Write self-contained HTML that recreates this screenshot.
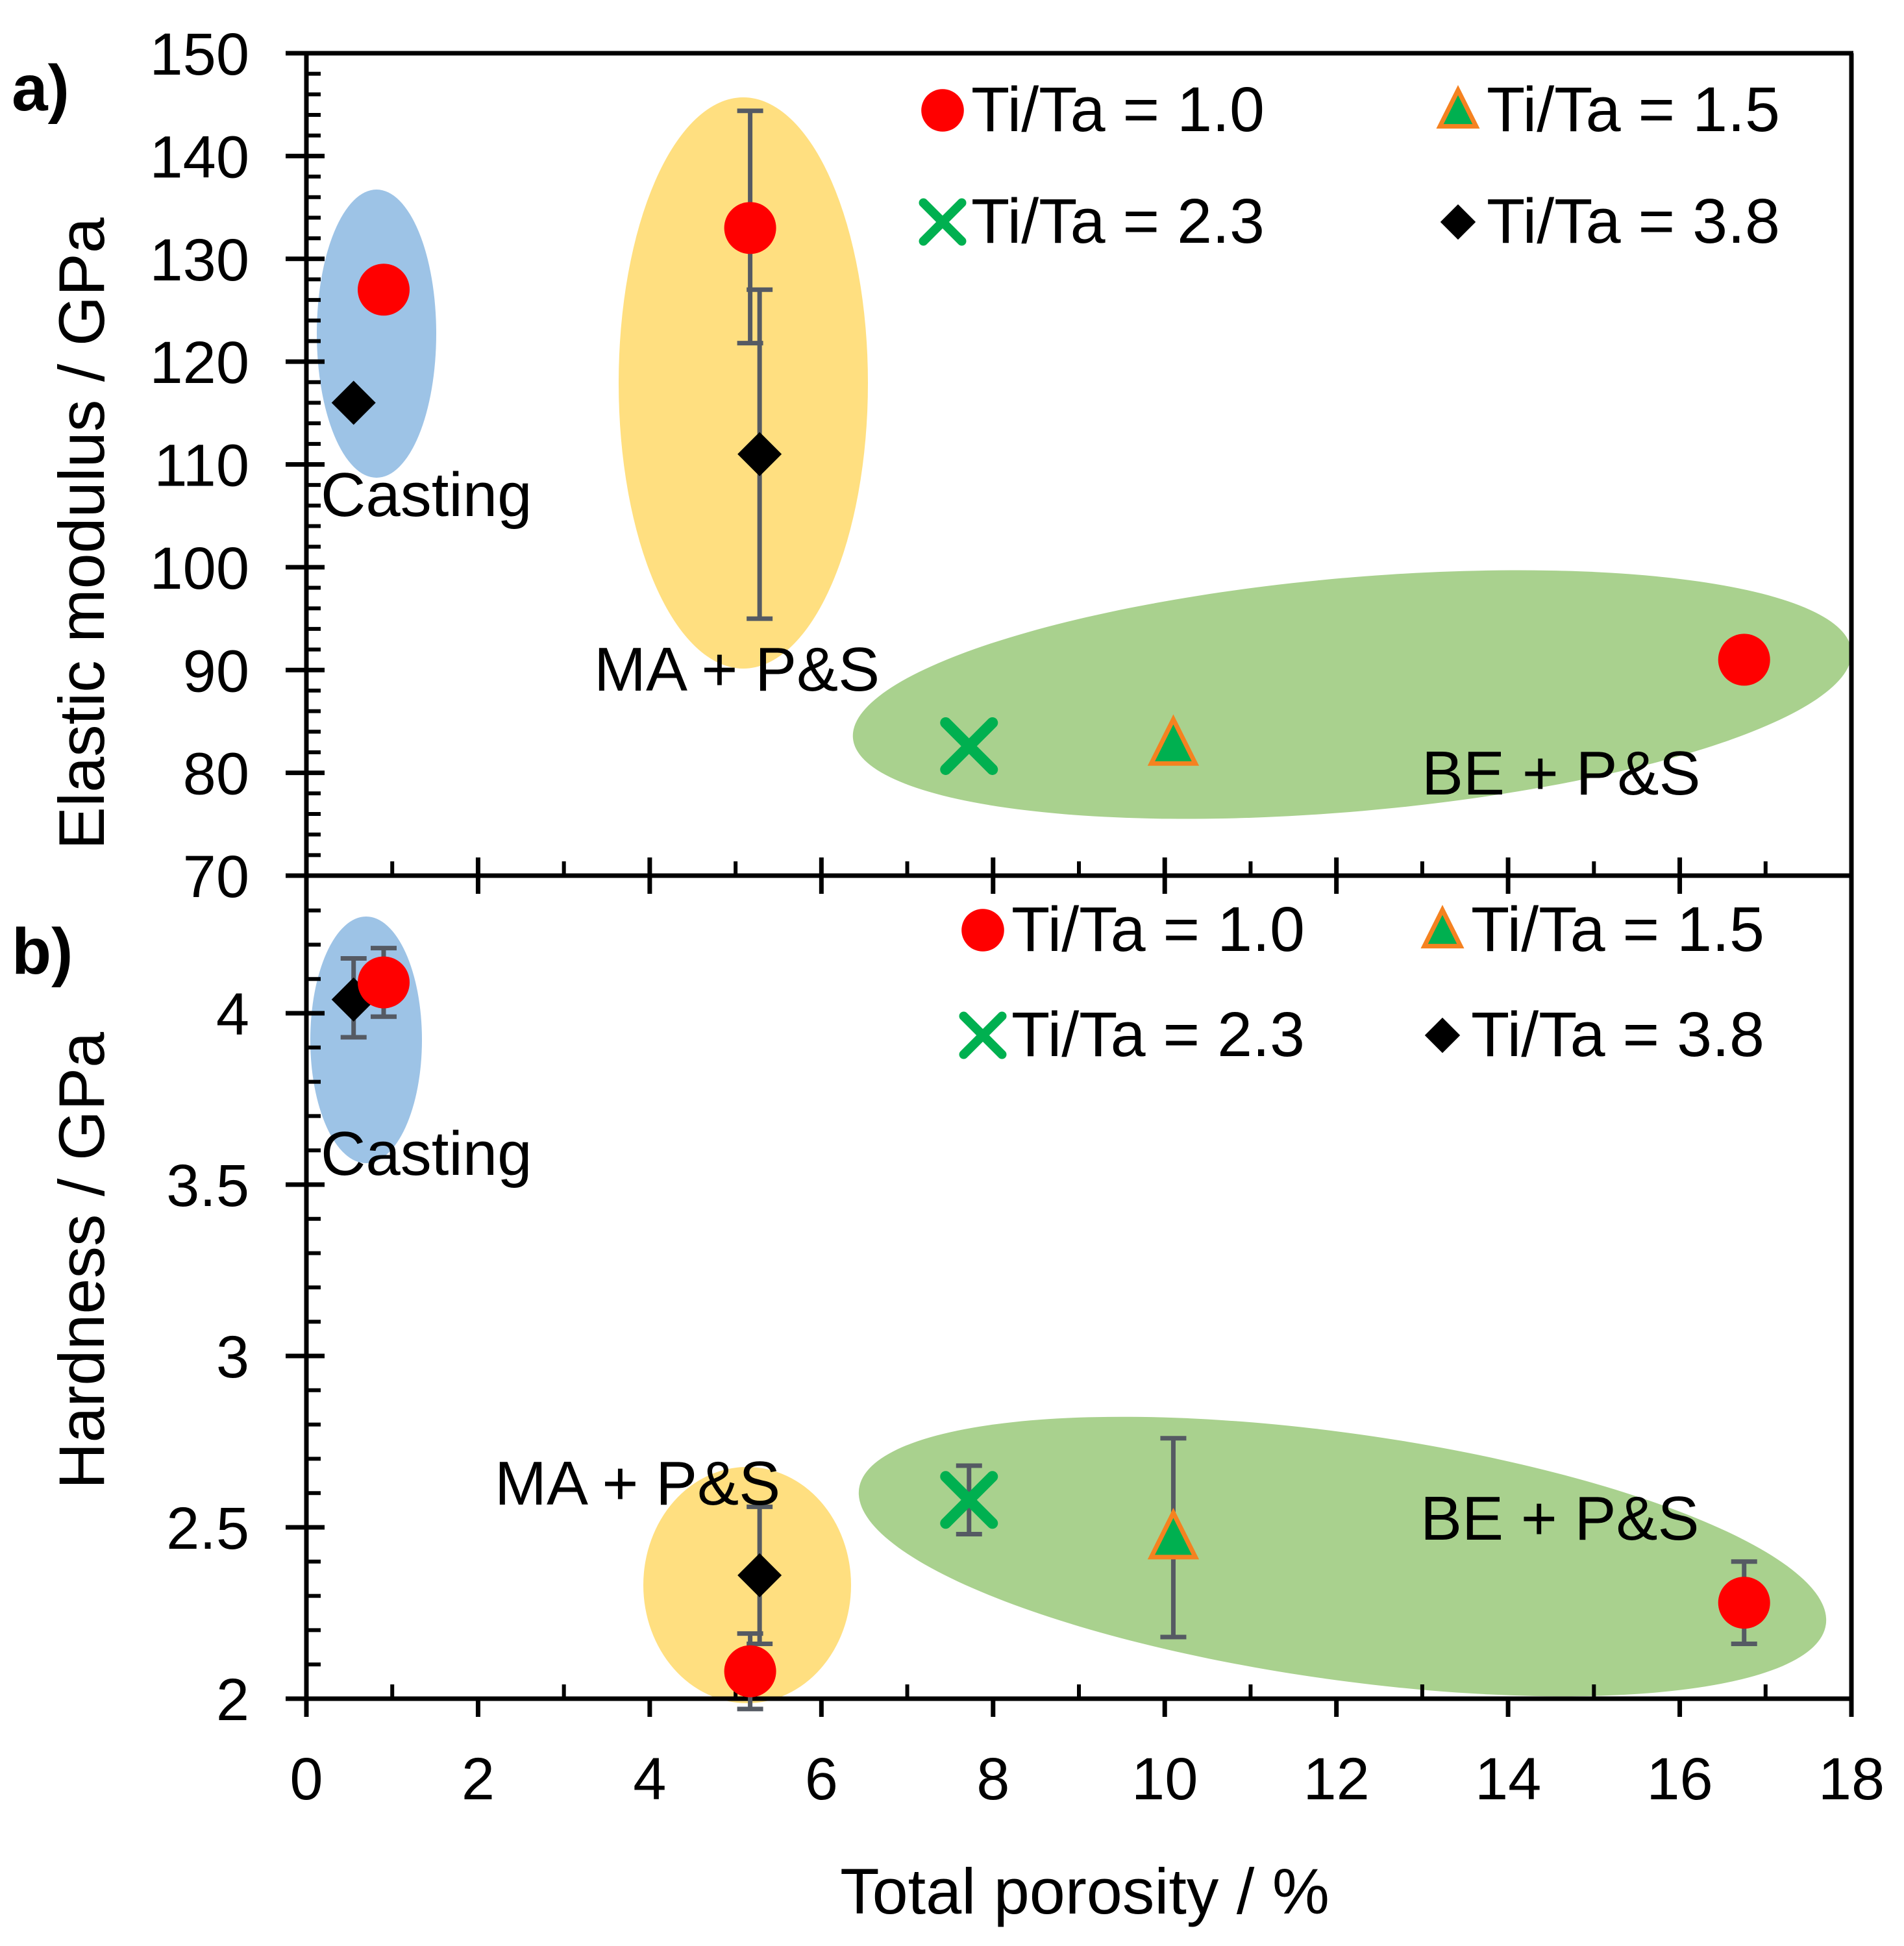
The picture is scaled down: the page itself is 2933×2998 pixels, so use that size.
<!DOCTYPE html>
<html><head><meta charset="utf-8">
<style>
html,body{margin:0;padding:0;background:#fff;}
svg{display:block;font-family:"Liberation Sans",Arial,sans-serif;}
</style></head>
<body>
<svg id="chart" width="2933" height="2998" viewBox="0 0 2933 2998" xmlns="http://www.w3.org/2000/svg">
<g id="shapes"></g><g id="axes"></g><g id="marks"></g><g id="texts"></g>
</svg>
<script>
// ---- data ----
const xTicks = [0,2,4,6,8,10,12,14,16,18];
const aTicks = [70,80,90,100,110,120,130,140,150];
const bTicks = [2,2.5,3,3.5,4];
// panel a: elastic modulus (GPa)
const aRatio10 = {x:[0.9,5.17,16.75], y:[127,133,91], hi:[null,144.4,null], lo:[null,121.8,null]};
const aRatio38 = {x:[0.55,5.28], y:[116,111], hi:[null,127], lo:[null,95]};
const aRatio23 = {x:[7.72], y:[82.6], hi:[null], lo:[null]};
const aRatio15 = {x:[10.1], y:[82.8], hi:[null], lo:[null]};
// panel b: hardness (GPa)
const bRatio10 = {x:[0.9,5.17,16.75], y:[4.09,2.08,2.28], hi:[4.19,2.19,2.40], lo:[3.99,1.97,2.16]};
const bRatio38 = {x:[0.55,5.28], y:[4.04,2.36], hi:[4.16,2.56], lo:[3.93,2.16]};
const bRatio23 = {x:[7.72], y:[2.58], hi:[2.68], lo:[2.48]};
const bRatio15 = {x:[10.1], y:[2.47], hi:[2.76], lo:[2.18]};

const NS="http://www.w3.org/2000/svg";
const X0=472, X1=2852, A0=82, A1=1349, B1=2617;
const sx=v=>X0+(v-0)/18*(X1-X0);
const sa=v=>A1-(v-70)/80*(A1-A0);
function sbH(v){return B1-(v-2)*((B1-1561)/2);}
function mk(tag,attrs,parent){const e=document.createElementNS(NS,tag);for(const k in attrs)e.setAttribute(k,attrs[k]);parent.appendChild(e);return e;}
const shapes=document.getElementById('shapes'),axes=document.getElementById('axes'),marks=document.getElementById('marks'),texts=document.getElementById('texts');

function ell(cx,cy,rx,ry,rot,fill,name){const e=mk('ellipse',{cx:cx,cy:cy,rx:rx,ry:ry,fill:fill,transform:`rotate(${rot} ${cx} ${cy})`},shapes);

}
ell(580,514,92,222,0,'#9DC3E6','casting-region-a');
ell(1145,590,192,440,0,'#FFDF80','ma-ps-region-a');
ell(2083,1070,772,180,-5,'#A9D18E','be-ps-region-a');
ell(564,1602,86,190,0,'#9DC3E6','casting-region-b');
ell(1151,2442,160,182,0,'#FFDF80','ma-ps-region-b');
ell(2068,2398,752,190,8,'#A9D18E','be-ps-region-b');

function line(x1,y1,x2,y2,name,w){const l=mk('line',{x1:x1,y1:y1,x2:x2,y2:y2,stroke:'#000','stroke-width':w||7},axes);

return l;}
line(440,A0,X1+3,A0,'top-frame');
line(X1,A0,X1,B1,'right-frame');
line(X0,A0,X0,B1,'y-axis-line');
line(440,A1,X1,A1,'panel-divider');
line(440,B1,X1+3,B1,'x-axis-line');
aTicks.forEach(v=>{line(440,sa(v),500,sa(v),'y-tick-a');
const t=mk('text',{x:384,y:sa(v)+33,'font-size':92,'text-anchor':'end'},texts);t.textContent=v;

});
for(let v=72;v<150;v+=2){if(v%10)line(X0,sa(v),X0+22,sa(v),'y-minor-tick-a',6);}
bTicks.forEach(v=>{line(440,sbH(v),500,sbH(v),'y-tick-b');
const t=mk('text',{x:384,y:sbH(v)+33,'font-size':92,'text-anchor':'end'},texts);t.textContent=v;

});
for(let i=21;i<44;i++){const v=i/10;if(i%5)line(X0,sbH(v),X0+22,sbH(v),'y-minor-tick-b',6);}
xTicks.forEach(v=>{line(sx(v),B1,sx(v),B1+28,'x-tick');line(sx(v),A1-28,sx(v),A1+28,'x-tick-mid');
const t=mk('text',{x:sx(v),y:2772,'font-size':92,'text-anchor':'middle'},texts);t.textContent=v;

});
for(let v=1;v<18;v+=2){line(sx(v),B1-22,sx(v),B1,'x-minor-tick',6);line(sx(v),A1-22,sx(v),A1,'x-minor-tick-mid',6);}

function err(x,y1,y2){const c='#555a63';mk('line',{x1:x,y1:y1,x2:x,y2:y2,stroke:c,'stroke-width':7},marks);
mk('line',{x1:x-20,y1:y1,x2:x+20,y2:y1,stroke:c,'stroke-width':7},marks);
mk('line',{x1:x-20,y1:y2,x2:x+20,y2:y2,stroke:c,'stroke-width':7},marks);}
function marker(kind,cx,cy,parent,s){s=s||1;let e;
if(kind==='circle'){e=mk('circle',{cx:cx,cy:cy,r:40*s,fill:'#FF0000'},parent);}
else if(kind==='diamond'){const r=34*s;e=mk('polygon',{points:`${cx},${cy-r} ${cx+r},${cy} ${cx},${cy+r} ${cx-r},${cy}`,fill:'#000'},parent);}
else if(kind==='tri'){const w=34*s;e=mk('polygon',{points:`${cx},${cy-38*s} ${cx+w},${cy+30*s} ${cx-w},${cy+30*s}`,fill:'#00B050',stroke:'#F58220','stroke-width':7},parent);}
else {const r=36*s;e=mk('path',{d:`M${cx-r},${cy-r}L${cx+r},${cy+r}M${cx+r},${cy-r}L${cx-r},${cy+r}`,stroke:'#00B050','stroke-width':17*s,'stroke-linecap':'round'},parent);}
return e;}
function series(d,kind,sy,name){d.x.forEach((xv,i)=>{const cx=sx(xv),cy=sy(d.y[i]);
if(d.hi[i]!=null)err(cx,sy(d.hi[i]),sy(d.lo[i]));
const e=marker(kind,cx,cy,marks);

});}
series(aRatio10,'circle',sa,'point-a-ti-ta-1-0');
series(aRatio38,'diamond',sa,'point-a-ti-ta-3-8');
series(aRatio23,'x',sa,'point-a-ti-ta-2-3');
series(aRatio15,'tri',sa,'point-a-ti-ta-1-5');
series(bRatio23,'x',sbH,'point-b-ti-ta-2-3');
series(bRatio15,'tri',sbH,'point-b-ti-ta-1-5');
series(bRatio38,'diamond',sbH,'point-b-ti-ta-3-8');
series(bRatio10,'circle',sbH,'point-b-ti-ta-1-0');

function legend(mx,tx,y,kind,label,s){const g=mk('g',{},texts);


marker(kind,mx,y-32,g,s);const t=mk('text',{x:tx,y:y,'font-size':97},g);t.textContent=label;}
legend(1452,1496,202,'circle','Ti/Ta = 1.0',0.82);
legend(2246,2290,202,'tri','Ti/Ta = 1.5',0.82);
legend(1452,1496,374,'x','Ti/Ta = 2.3',0.82);
legend(2246,2290,374,'diamond','Ti/Ta = 3.8',0.8);
legend(1514,1558,1465,'circle','Ti/Ta = 1.0',0.82);
legend(2222,2266,1465,'tri','Ti/Ta = 1.5',0.82);
legend(1514,1558,1627,'x','Ti/Ta = 2.3',0.82);
legend(2222,2266,1627,'diamond','Ti/Ta = 3.8',0.8);

function txt(x,y,s,size,name,extra){const t=mk('text',Object.assign({x:x,y:y,'font-size':size},extra||{}),texts);t.textContent=s;

return t;}
txt(494,795,'Casting',96,'casting-label-a');
txt(915,1064,'MA + P&S',96,'ma-ps-label-a');
txt(2190,1224,'BE + P&S',96,'be-ps-label-a');
txt(494,1810,'Casting',96,'casting-label-b');
txt(762,2318,'MA + P&S',96,'ma-ps-label-b');
txt(2188,2372,'BE + P&S',96,'be-ps-label-b');
txt(18,170,'a)',100,'panel-a-label',{'font-weight':'bold'});
txt(18,1500,'b)',100,'panel-b-label',{'font-weight':'bold'});
txt(160,822,'Elastic modulus / GPa',99,'y-axis-title-a',{'text-anchor':'middle',transform:'rotate(-90 160 822)'});
txt(160,1942,'Hardness / GPa',99,'y-axis-title-b',{'text-anchor':'middle',transform:'rotate(-90 160 1942)'});
txt(1671,2948,'Total porosity / %',99,'x-axis-title',{'text-anchor':'middle'});
</script>
</body></html>
